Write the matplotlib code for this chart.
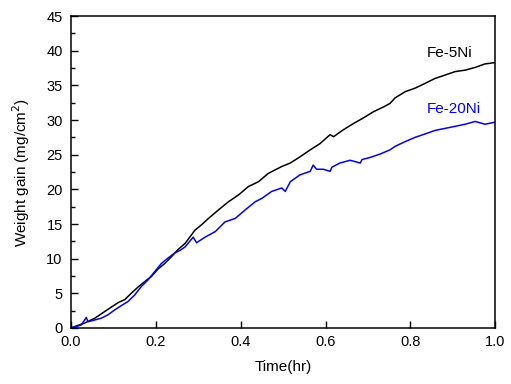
import numpy as np
import matplotlib
matplotlib.use("Agg")
import matplotlib.pyplot as plt
from matplotlib.ticker import MultipleLocator

plt.rcParams['font.family'] = ['Liberation Sans', 'DejaVu Sans']

# values
t_5ni = [0.000, 0.009, 0.032, 0.056, 0.079, 0.095, 0.111, 0.127, 0.142, 0.158,
         0.174, 0.189, 0.205, 0.221, 0.237, 0.252, 0.269, 0.292, 0.308, 0.324,
         0.347, 0.371, 0.395, 0.418, 0.442, 0.465, 0.481, 0.497, 0.517, 0.540,
         0.564, 0.587, 0.611, 0.619, 0.642, 0.666, 0.689, 0.713, 0.737, 0.752,
         0.764, 0.788, 0.811, 0.835, 0.858, 0.882, 0.906, 0.929, 0.953, 0.976, 1.000]
w_5ni = [0.0, 0.2, 0.7, 1.4, 2.35, 3.0, 3.65, 4.1, 5.0, 5.9,
         6.7, 7.4, 8.5, 9.3, 10.3, 11.3, 12.2, 14.1, 14.9, 15.8,
         17.0, 18.2, 19.2, 20.4, 21.1, 22.3, 22.8, 23.3, 23.8, 24.7,
         25.7, 26.6, 27.9, 27.6, 28.6, 29.5, 30.3, 31.2, 31.9, 32.4,
         33.2, 34.1, 34.6, 35.3, 36.0, 36.5, 37.0, 37.2, 37.6, 38.1, 38.3]

t_20ni = [0.000, 0.009, 0.024, 0.036, 0.040, 0.056, 0.071, 0.087, 0.103, 0.118,
          0.134, 0.150, 0.166, 0.181, 0.197, 0.213, 0.228, 0.244, 0.257, 0.269,
          0.288, 0.296, 0.316, 0.340, 0.363, 0.387, 0.410, 0.434, 0.450, 0.473,
          0.497, 0.505, 0.517, 0.540, 0.564, 0.571, 0.579, 0.595, 0.611, 0.615,
          0.634, 0.658, 0.682, 0.686, 0.705, 0.729, 0.752, 0.764, 0.788, 0.811,
          0.835, 0.858, 0.882, 0.906, 0.929, 0.953, 0.976, 1.000]
w_20ni = [0.0, 0.15, 0.43, 1.5, 0.9, 1.15, 1.4, 1.9, 2.6, 3.2,
          3.8, 4.75, 6.0, 6.9, 8.1, 9.3, 10.05, 10.8, 11.2, 11.7,
          13.1, 12.3, 13.1, 13.9, 15.3, 15.8, 17.0, 18.2, 18.7, 19.7,
          20.2, 19.7, 21.1, 22.1, 22.6, 23.5, 22.9, 22.9, 22.6, 23.2,
          23.8, 24.2, 23.8, 24.3, 24.6, 25.1, 25.7, 26.2, 26.9, 27.5,
          28.0, 28.5, 28.8, 29.1, 29.4, 29.8, 29.4, 29.7]

fig = plt.figure(figsize=(5.11, 3.84), dpi=100)
ax = fig.add_axes([0.139, 0.146, 0.830, 0.812])

ax.plot(t_5ni, w_5ni, color='black', lw=1.1)
ax.plot(t_20ni, w_20ni, color='#0000ff', lw=1.1)

ax.text(0.893, 39.7, 'Fe-5Ni', color='black', fontsize=11, ha='center', va='center')
ax.text(0.903, 31.6, 'Fe-20Ni', color='#0000ff', fontsize=11, ha='center', va='center')

ax.set_xlim(0, 1.0)
ax.set_ylim(0, 45)
ax.xaxis.set_major_locator(MultipleLocator(0.2))
ax.yaxis.set_major_locator(MultipleLocator(5))
ax.yaxis.set_minor_locator(MultipleLocator(2.5))
ax.xaxis.set_major_formatter(plt.FormatStrFormatter('%.1f'))
ax.tick_params(which='both', direction='in', top=False, right=False, labelsize=10.5)
ax.tick_params(axis='y', pad=6)
ax.tick_params(axis='x', pad=5)
ax.tick_params(which='major', length=5, width=1)
ax.tick_params(which='minor', length=3, width=1)
for s in ax.spines.values():
    s.set_linewidth(1.1)

ax.set_xlabel('Time(hr)', fontsize=11, labelpad=8)
ax.set_ylabel('Weight gain (mg/cm$^2$)', fontsize=11, labelpad=10)

fig.savefig('out.png', dpi=100)
